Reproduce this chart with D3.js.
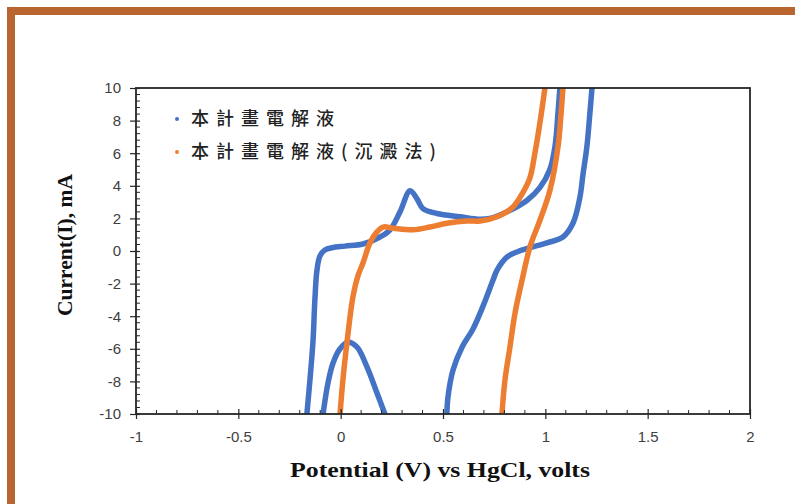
<!DOCTYPE html>
<html>
<head>
<meta charset="utf-8">
<script src="https://cdn.jsdelivr.net/npm/d3@7"></script>
<style>
  html, body { margin: 0; padding: 0; background: #fff; }
  svg { display: block; }
</style>
</head>
<body>
<svg id="chart" width="795" height="504"></svg>
<script>
// Series names (legend)
const seriesNames = ["本計畫電解液", "本計畫電解液(沉澱法)"];
const seriesColors = ["#4472C4", "#ED7D31"];

// Axis ticks
const xTicks = [-1, -0.5, 0, 0.5, 1, 1.5, 2];
const yTicks = [-10, -8, -6, -4, -2, 0, 2, 4, 6, 8, 10];

// Cyclic voltammogram, electrolyte of this project: [potential V, current mA]
// forward sweep (enters from below the axis floor, rises through the oxidation peak)
const blueForward = [
  [-0.165, -10], [-0.150, -7.9], [-0.135, -5.5], [-0.126, -3.0], [-0.116, -1.2],
  [-0.101, -0.3], [-0.077, 0.06], [-0.042, 0.2], [0.021, 0.3], [0.109, 0.43],
  [0.192, 0.86], [0.241, 1.3], [0.290, 2.4], [0.339, 3.7], [0.373, 3.2],
  [0.402, 2.6], [0.470, 2.3], [0.583, 2.1], [0.681, 1.95], [0.729, 2.0],
  [0.812, 2.4], [0.910, 3.1], [0.974, 3.9], [1.022, 5.0], [1.047, 6.4],
  [1.062, 8.5], [1.071, 10]
];
// reverse sweep
const blueReverse = [
  [1.228, 10], [1.218, 8.5], [1.203, 6.4], [1.184, 4.7], [1.169, 3.3],
  [1.135, 1.7], [1.086, 0.86], [1.008, 0.5], [0.925, 0.2], [0.861, -0.06],
  [0.812, -0.37], [0.764, -1.17], [0.744, -1.8], [0.695, -3.4], [0.646, -4.8],
  [0.593, -5.9], [0.549, -7.3], [0.524, -9.0], [0.519, -10]
];
// reduction hump near 0 V
const blueHump = [
  [-0.086, -10], [-0.062, -8.1], [-0.038, -6.9], [-0.003, -6.0], [0.036, -5.6],
  [0.080, -5.9], [0.128, -7.1], [0.177, -8.7], [0.216, -10]
];

// Cyclic voltammogram, precipitation-method electrolyte
const orangeForward = [
  [-0.003, -10], [0.011, -7.9], [0.031, -5.6], [0.060, -2.8], [0.085, -1.5],
  [0.109, -0.74], [0.143, 0.49], [0.177, 1.17], [0.207, 1.47], [0.256, 1.4],
  [0.353, 1.3], [0.436, 1.47], [0.519, 1.7], [0.617, 1.84], [0.681, 1.84],
  [0.764, 2.1], [0.842, 2.7], [0.891, 3.6], [0.925, 4.5], [0.949, 6.0],
  [0.974, 7.9], [0.998, 10]
];
const orangeReverse = [
  [1.086, 10], [1.076, 8.3], [1.062, 6.4], [1.022, 3.7], [0.974, 1.9],
  [0.925, 0.25], [0.886, -1.8], [0.852, -3.8], [0.827, -5.9], [0.803, -7.9],
  [0.788, -10]
];

const segments = [
  { data: blueHump, series: 0 },
  { data: blueForward, series: 0 },
  { data: blueReverse, series: 0 },
  { data: orangeForward, series: 1 },
  { data: orangeReverse, series: 1 }
];

const svg = d3.select("#chart");

// decorative frame (top and left bands)
svg.append("rect")
  .attr("x", 11).attr("y", 11)
  .attr("width", 900).attr("height", 600)
  .attr("fill", "none")
  .attr("stroke", "#B9652F")
  .attr("stroke-width", 8);

const plot = { left: 136, right: 750, top: 88, bottom: 414 };

const x = d3.scaleLinear().domain([-1, 2]).range([plot.left, plot.right]);
const y = d3.scaleLinear().domain([-10, 10]).range([plot.bottom, plot.top]);

const axisColor = "#262626";
const labelColor = "#404040";

// clip for data
svg.append("clipPath").attr("id", "plotClip")
  .append("rect")
  .attr("x", plot.left).attr("y", plot.top)
  .attr("width", plot.right - plot.left).attr("height", plot.bottom - plot.top);

// data curves
const line = d3.line()
  .x(d => x(d[0]))
  .y(d => y(d[1]))
  .curve(d3.curveCatmullRom.alpha(0.5));

const gData = svg.append("g").attr("clip-path", "url(#plotClip)");
gData.selectAll("path")
  .data(segments)
  .join("path")
  .attr("d", d => line(d.data))
  .attr("fill", "none")
  .attr("stroke", d => seriesColors[d.series])
  .attr("stroke-width", 5.5)
  .attr("stroke-linecap", "round")
  .attr("stroke-linejoin", "round");

// minor ticks
const xMinor = d3.range(-1, 2.0001, 0.1).map(v => +v.toFixed(2)).filter(v => !xTicks.includes(v));
const yMinor = d3.range(-10, 10.0001, 0.4).map(v => +v.toFixed(2)).filter(v => !yTicks.includes(v));

svg.append("g").selectAll("line")
  .data(xMinor).join("line")
  .attr("x1", d => x(d)).attr("x2", d => x(d))
  .attr("y1", plot.bottom).attr("y2", plot.bottom - 4)
  .attr("stroke", axisColor).attr("stroke-width", 1);

svg.append("g").selectAll("line")
  .data(yMinor).join("line")
  .attr("y1", d => y(d)).attr("y2", d => y(d))
  .attr("x1", plot.left).attr("x2", plot.left + 4)
  .attr("stroke", axisColor).attr("stroke-width", 1);

// plain hyphen-minus tick labels
const tickFmt = d => String(d);

// x axis
const xAxis = d3.axisBottom(x)
  .tickValues(xTicks)
  .tickSizeInner(5)
  .tickSizeOuter(0)
  .tickPadding(12)
  .tickFormat(tickFmt);
const gx = svg.append("g")
  .attr("transform", `translate(0,${plot.bottom})`)
  .call(xAxis);
gx.select(".domain").remove();
gx.selectAll(".tick line")
  .attr("y1", -5).attr("y2", 5)
  .attr("stroke", axisColor).attr("stroke-width", 1.2);
gx.selectAll(".tick text")
  .attr("fill", labelColor)
  .style("font-family", "Liberation Sans, Arial, sans-serif")
  .style("font-size", "15px");

// y axis
const yAxis = d3.axisLeft(y)
  .tickValues(yTicks)
  .tickSizeInner(5)
  .tickSizeOuter(0)
  .tickPadding(10)
  .tickFormat(tickFmt);
const gy = svg.append("g")
  .attr("transform", `translate(${plot.left},0)`)
  .call(yAxis);
gy.select(".domain").remove();
gy.selectAll(".tick line")
  .attr("x1", -6).attr("x2", 4)
  .attr("stroke", axisColor).attr("stroke-width", 1.2);
gy.selectAll(".tick text")
  .attr("fill", labelColor)
  .style("font-family", "Liberation Sans, Arial, sans-serif")
  .style("font-size", "15px");

// plot border
svg.append("rect")
  .attr("x", plot.left).attr("y", plot.top)
  .attr("width", plot.right - plot.left).attr("height", plot.bottom - plot.top)
  .attr("fill", "none")
  .attr("stroke", axisColor)
  .attr("stroke-width", 1.8);

// axis titles
svg.append("text")
  .attr("x", 440).attr("y", 477)
  .attr("text-anchor", "middle")
  .attr("textLength", 300)
  .attr("lengthAdjust", "spacingAndGlyphs")
  .style("font-family", "Liberation Serif, 'Times New Roman', serif")
  .style("font-weight", "bold")
  .style("font-size", "21px")
  .attr("fill", "#111")
  .text("Potential (V) vs HgCl, volts");

svg.append("text")
  .attr("transform", "translate(72,245) rotate(-90)")
  .attr("text-anchor", "middle")
  .attr("textLength", 142)
  .attr("lengthAdjust", "spacingAndGlyphs")
  .style("font-family", "Liberation Serif, 'Times New Roman', serif")
  .style("font-weight", "bold")
  .style("font-size", "20px")
  .attr("fill", "#111")
  .text("Current(I), mA");

// legend
const legend = svg.append("g");
const legendRows = legend.selectAll("g")
  .data(seriesNames)
  .join("g")
  .attr("transform", (d, i) => `translate(177,${119 + i * 33})`);
legendRows.append("circle")
  .attr("r", 2)
  .attr("fill", (d, i) => seriesColors[i]);
legendRows.append("text")
  .attr("x", 14)
  .attr("dy", "0.36em")
  .style("font-family", "'Noto Sans CJK TC', 'Noto Sans CJK SC', sans-serif")
  .style("font-size", "18px")
  .style("font-weight", "500")
  .style("letter-spacing", "7px")
  .attr("fill", "#222")
  .text(d => d);
</script>
</body>
</html>
